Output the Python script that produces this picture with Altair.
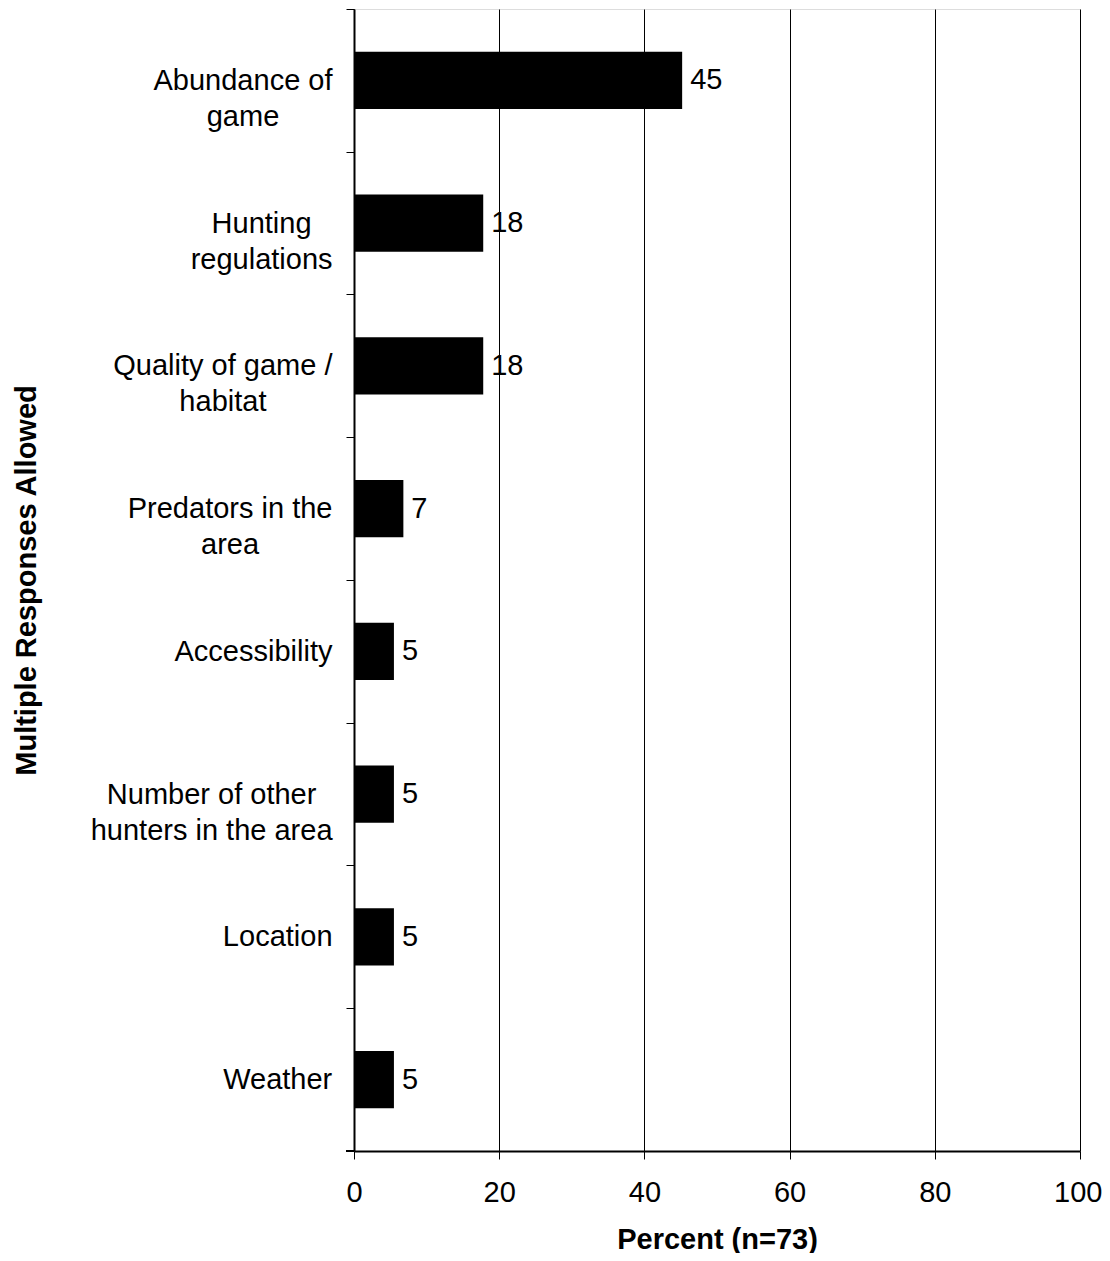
import altair as alt
import pandas as pd

categories = [
    "Abundance of|game",
    "Hunting|regulations",
    "Quality of game /|habitat",
    "Predators in the|area",
    "Accessibility",
    "Number of other|hunters in the area",
    "Location",
    "Weather",
]
values = [45.2, 17.8, 17.8, 6.8, 5.5, 5.5, 5.5, 5.5]
labels = ["45", "18", "18", "7", "5", "5", "5", "5"]

df = pd.DataFrame({"cat": categories, "val": values, "lab": labels})

FONT = "Liberation Sans"
FS = 29
H = 1142
STEP = H / len(categories)
GAP = 14  # distance between tick end and the right edge of a label block

# Half of the widest line of each label block (Arial metrics at 29px), so the
# centred multi-line labels end flush at the same distance from the axis.
half_width = {
    "Abundance of|game": 89.5,
    "Hunting|regulations": 70.9,
    "Quality of game /|habitat": 109.6,
    "Predators in the|area": 102.4,
    "Accessibility": 79.0,
    "Number of other|hunters in the area": 120.9,
    "Location": 54.8,
    "Weather": 54.8,
}
pad_conditions = [
    {"test": f"datum.value == '{k}'", "value": GAP + v} for k, v in half_width.items()
]

y_enc = alt.Y(
    "cat:N",
    sort=categories,
    scale=alt.Scale(paddingInner=0.6, paddingOuter=0.3),
    axis=alt.Axis(
        title="Multiple Responses Allowed",
        titleFont=FONT,
        titleFontSize=FS,
        titleFontWeight="bold",
        titleColor="black",
        titleX=-328,
        titleY=H / 2,
        titleAngle=270,
        titleAlign="center",
        titleBaseline="middle",
        labelExpr="split(datum.label, '|')",
        labelFont=FONT,
        labelFontSize=FS,
        labelColor="black",
        labelLineHeight=36,
        labelPadding={"condition": pad_conditions, "value": GAP},
        labelAlign="center",
        labelLimit=600,
        tickOffset=-STEP / 2,
        labelOffset=STEP / 2,
        tickSize=8,
        tickColor="black",
        tickWidth=1,
        domainColor="black",
        domainWidth=2,
        grid=False,
    ),
)

x_enc = alt.X(
    "val:Q",
    scale=alt.Scale(domain=[0, 100], nice=False),
    axis=alt.Axis(
        title="Percent (n=73)",
        titleFont=FONT,
        titleFontSize=FS,
        titleFontWeight="bold",
        titleColor="black",
        titleX=363,
        titleY=88,
        titleBaseline="middle",
        titleAlign="center",
        values=[0, 20, 40, 60, 80, 100],
        labelFont=FONT,
        labelFontSize=FS,
        labelColor="black",
        labelPadding=19,
        labelFlush=False,
        labelAlign={"condition": {"test": "datum.value == 100", "value": "right"}, "value": "center"},
        labelOffset={"condition": {"test": "datum.value == 100", "value": 22}, "value": 0},
        tickSize=8,
        tickColor="black",
        tickWidth=1,
        domainColor="black",
        domainWidth=2,
        grid=True,
        gridColor="black",
        gridWidth=1,
        gridOpacity=1,
    ),
)

bars = alt.Chart(df).mark_bar(color="black").encode(x=x_enc, y=y_enc)

text = alt.Chart(df).mark_text(
    align="left", baseline="middle", dx=8, font=FONT, fontSize=FS, color="black"
).encode(
    x=alt.X("val:Q"),
    y=alt.Y("cat:N", sort=categories),
    text="lab:N",
)

# closing tick at the bottom of the category axis
corner_tick = alt.Chart(df).mark_rule(color="black", strokeWidth=1).encode(
    x=alt.value(-8), x2=alt.value(0), y=alt.value(H)
)

chart = (
    alt.layer(bars, text, corner_tick)
    .properties(
        width=726,
        height=H,
        autosize=alt.AutoSizeParams(type="none"),
        padding={"left": 346, "top": 1, "right": 22, "bottom": 102},
    )
    .configure_view(stroke="black", strokeWidth=2)
    .configure(background="white")
)

chart.save("out.html", embed_options={"renderer": "svg", "actions": False})
